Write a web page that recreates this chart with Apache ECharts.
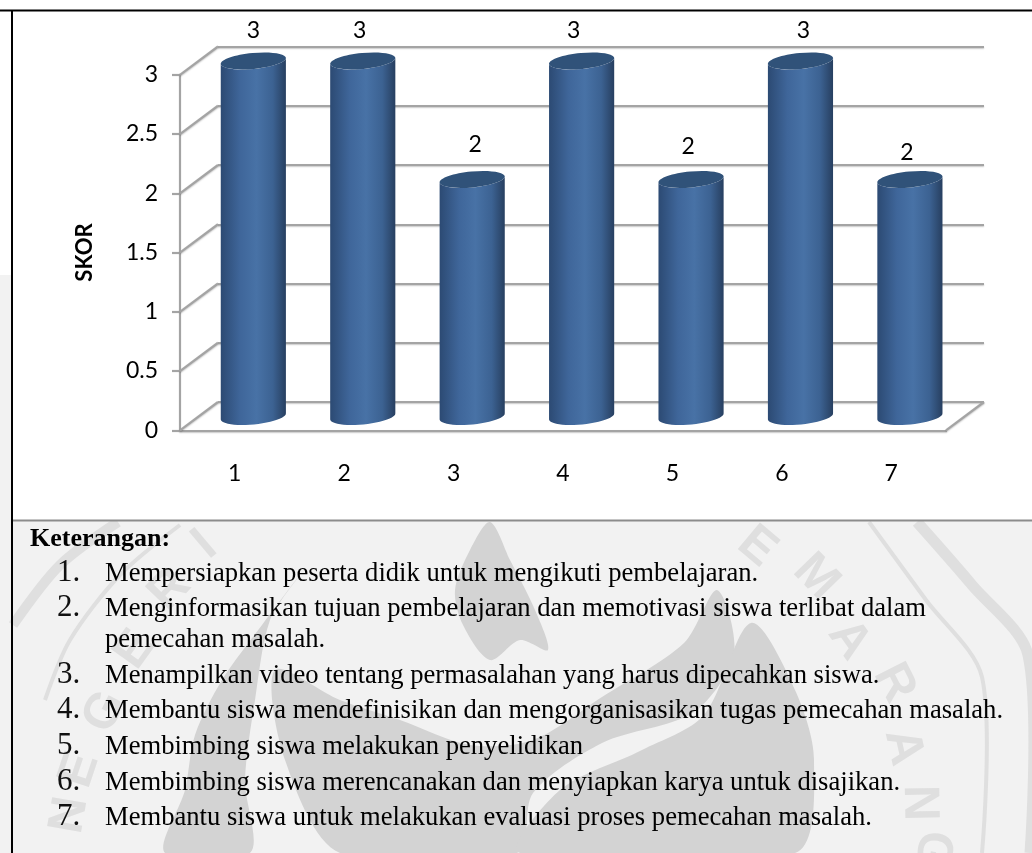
<!DOCTYPE html>
<html>
<head>
<meta charset="utf-8">
<style>html,body{margin:0;padding:0;background:#fff}#chart{width:1032px;height:853px}</style>
<script src="https://cdn.jsdelivr.net/npm/echarts@6/dist/echarts.min.js"></script>
</head>
<body>
<div id="chart"></div>
<script>
// Scores per teaching step
const categories = ['1', '2', '3', '4', '5', '6', '7'];
const scores = [3, 3, 2, 3, 2, 3, 2];
const tickValues = [0, 0.5, 1, 1.5, 2, 2.5, 3];
const axisTitle = 'SKOR';
const noteHeading = 'Keterangan:';
const notes = [
  ['1.', 'Mempersiapkan peserta didik untuk mengikuti pembelajaran.'],
  ['2.', 'Menginformasikan tujuan pembelajaran dan memotivasi siswa terlibat dalam', 'pemecahan masalah.'],
  ['3.', 'Menampilkan video tentang permasalahan yang harus dipecahkan siswa.'],
  ['4.', 'Membantu siswa mendefinisikan dan mengorganisasikan tugas pemecahan masalah.'],
  ['5.', 'Membimbing siswa melakukan penyelidikan'],
  ['6.', 'Membimbing siswa merencanakan dan menyiapkan karya untuk disajikan.'],
  ['7.', 'Membantu siswa untuk melakukan evaluasi proses pemecahan masalah.']
];

// Layout of the pseudo-3D box: the back wall and the front plane share one scale
const plotW = 766, plotH = 355.5;
const backLeft = 218, backTop = 46.5;
const depthX = -38, depthY = 28.3;
const gridGray = '#a4a4a4';
const barDepth = 0.51;          // bars stand about halfway between wall and front
const barWidthRatio = 0.598;
const labelNudges = [[0, 0], [-3, 0], [3, -5], [-8, 0], [-3, -3], [3, 0], [-3, 3]];
const labelFont = 'Lato';
const gridShadow = { shadowColor: 'rgba(0,0,0,0.22)', shadowBlur: 1.5, shadowOffsetY: 1 };

const tilt = 0.095;
const ellipseRy = 8;

function renderBar(params, api) {
  const i = api.value(0);
  const top = api.coord([i, api.value(1)]);
  const base = api.coord([i, 0]);
  const band = api.size([1, 0])[0];
  const rx = band * barWidthRatio / 2;
  const cx = top[0] + depthX * barDepth;
  const ty = top[1] + depthY * barDepth;
  const by = base[1] + depthY * barDepth;
  // Body outline: top rim joined to the rounded lower rim
  const pts = [];
  const rim = (a, cy) => [
    cx + rx * Math.cos(a) * Math.cos(tilt) + ellipseRy * Math.sin(a) * Math.sin(tilt),
    cy - rx * Math.cos(a) * Math.sin(tilt) + ellipseRy * Math.sin(a) * Math.cos(tilt)
  ];
  for (let k = 0; k <= 24; k++) pts.push(rim(Math.PI - Math.PI * k / 24, ty));
  for (let k = 0; k <= 24; k++) pts.push(rim(Math.PI * k / 24, by));
  const nudge = labelNudges[i];
  return {
    type: 'group',
    children: [
      {
        type: 'polygon',
        shape: { points: pts },
        style: {
          fill: {
            type: 'linear', x: 0, y: 0, x2: 1, y2: 0,
            colorStops: [
              { offset: 0, color: '#2c4a73' },
              { offset: 0.3, color: '#3f669a' },
              { offset: 0.55, color: '#4872a6' },
              { offset: 0.8, color: '#3c6292' },
              { offset: 1, color: '#273f60' }
            ]
          }
        }
      },
      {
        type: 'ellipse',
        shape: { cx: cx, cy: ty, rx: rx, ry: ellipseRy },
        rotation: tilt,
        originX: cx,
        originY: ty,
        style: { fill: '#305279' }
      },
      {
        type: 'text',
        style: {
          text: String(api.value(1)),
          x: cx + nudge[0],
          y: ty - 30 + nudge[1],
          align: 'center',
          verticalAlign: 'middle',
          font: '23px ' + labelFont,
          fill: '#000'
        }
      }
    ]
  };
}

// Side-wall and floor edges, one per tick, running from the front plane to the back wall
function renderWall(params, api) {
  const p = api.coord([0, api.value(0)]);
  const x0 = params.coordSys.x;
  const lineStyle = Object.assign({ stroke: gridGray, lineWidth: 2.2 }, gridShadow);
  const children = [{
    type: 'line',
    shape: { x1: x0, y1: p[1], x2: x0 - depthX, y2: p[1] - depthY },
    style: lineStyle
  }];
  if (api.value(0) === 0) {
    const xr = x0 + params.coordSys.width;
    children.push({
      type: 'line',
      shape: { x1: xr, y1: p[1], x2: xr - depthX, y2: p[1] - depthY },
      style: lineStyle
    });
  }
  return { type: 'group', children: children };
}

// Faint university emblem behind the notes panel
const wm = '#d3d3d3', wmLight = '#dfdfdf';
const flames = [
  [[490,522],[510,560],[535,610],[548,650],[520,640],[490,660],[463,625],[455,590],[470,550]],
  [[300,575],[262,625],[222,680],[195,735],[185,790],[165,853],[250,853],[245,780],[255,700],[270,620]],
  [[717,590],[684,643],[602,697],[533,740],[470,745],[400,720],[340,700],[275,670],[285,760],[340,853],[517,853],[533,793],[602,743],[694,712],[734,653]],
  [[751,623],[795,690],[814,760],[795,853],[520,853],[560,790],[642,750],[704,715]]
];
const rings = [
  { points: [[917,522],[972,585],[1028,655],[1030,853]], width: 11 },
  { points: [[869,522],[926,600],[982,677],[982,853]], width: 4 },
  { points: [[118,522],[60,565],[13,625]], width: 10 },
  { points: [[180,525],[120,575],[70,640],[45,700]], width: 4 }
];
const emblemLetters = [
  ['E', 757, 547, -0.7], ['M', 816, 577, -0.8], ['A', 849, 640, -0.95], ['R', 894, 683, -1.1],
  ['A', 903, 747, -1.35], ['N', 919, 803, -1.55], ['G', 932, 850, -1.75],
  ['N', 70, 815, 1.4], ['E', 80, 770, 1.25], ['G', 105, 712, 1.1], ['E', 135, 650, 0.95],
  ['R', 170, 590, 0.8], ['I', 205, 545, 0.7]
];
const markElements = [];
flames.forEach(points => markElements.push({ type: 'polygon', z: -8, shape: { points: points, smooth: 0.3 }, style: { fill: wm } }));
rings.forEach(r => markElements.push({ type: 'polyline', z: -8, shape: { points: r.points, smooth: 0.3 }, style: { stroke: wmLight, lineWidth: r.width, fill: null } }));
emblemLetters.forEach(l => markElements.push({
  type: 'text', z: -7, x: l[1], y: l[2], rotation: l[3],
  style: { text: l[0], align: 'center', verticalAlign: 'middle', font: 'bold 50px "Liberation Sans"', fill: wmLight }
}));

// Notes beneath the chart, set by baseline
const noteX = 105, numX = 57;
const noteBaselines = [[582], [617, 648], [684], [719], [755], [791], [826]];
const noteElements = [{
  type: 'text', z: 20,
  style: { text: noteHeading, x: 30, y: 552, verticalAlign: 'bottom', font: 'bold 26px "Liberation Serif"', fill: '#000' }
}];
notes.forEach((row, r) => {
  noteElements.push({
    type: 'text', z: 20,
    style: { text: row[0], x: numX, y: noteBaselines[r][0] + 6, verticalAlign: 'bottom', font: '31px "Liberation Serif"', fill: '#111' }
  });
  row.slice(1).forEach((line, l) => noteElements.push({
    type: 'text', z: 20,
    style: { text: line, x: noteX, y: noteBaselines[r][l] + 6, verticalAlign: 'bottom', font: '26.62px "Liberation Serif"', fill: '#000' }
  }));
});

const chart = echarts.init(document.getElementById('chart'), null, { renderer: 'canvas' });
chart.setOption({
  animation: false,
  backgroundColor: '#ffffff',
  graphic: {
    elements: [
      { type: 'rect', z: -10, shape: { x: 0, y: 275, width: 1032, height: 578 }, style: { fill: '#f2f2f2' } },
      ...markElements,
      { type: 'rect', z: -5, shape: { x: 12, y: 10, width: 1020, height: 510 }, style: { fill: '#ffffff' } },
      { type: 'line', z: 15, shape: { x1: 0, y1: 10.5, x2: 1032, y2: 10.5 }, style: { stroke: '#000', lineWidth: 2 } },
      { type: 'line', z: 15, shape: { x1: 12, y1: 10, x2: 12, y2: 853 }, style: { stroke: '#000', lineWidth: 2 } },
      { type: 'line', z: 15, shape: { x1: 13, y1: 520.5, x2: 1032, y2: 520.5 }, style: { stroke: '#8c8c8c', lineWidth: 2 } },
      ...noteElements
    ]
  },
  grid: [
    { left: backLeft, top: backTop, width: plotW, height: plotH, containLabel: false },
    { left: backLeft + depthX, top: backTop + depthY, width: plotW, height: plotH, containLabel: false }
  ],
  xAxis: [
    {
      type: 'category', gridIndex: 0, data: categories,
      axisLine: { show: false }, axisTick: { show: false }, axisLabel: { show: false }
    },
    {
      type: 'category', gridIndex: 1, data: categories,
      axisLine: { show: true, onZero: false, lineStyle: Object.assign({ color: gridGray, width: 2.2 }, gridShadow) },
      axisTick: { show: false },
      axisLabel: { margin: 32, color: '#000', fontFamily: labelFont, fontSize: 23 }
    }
  ],
  yAxis: [
    {
      type: 'value', gridIndex: 0, min: 0, max: 3, interval: 0.5,
      axisLine: { show: false }, axisTick: { show: false }, axisLabel: { show: false },
      splitLine: { show: true, lineStyle: Object.assign({ color: gridGray, width: 2.2 }, gridShadow) }
    },
    {
      type: 'value', gridIndex: 1, min: 0, max: 3, interval: 0.5,
      name: axisTitle, nameLocation: 'middle', nameRotate: 90, nameGap: 84,
      nameTextStyle: { color: '#000', fontFamily: labelFont, fontWeight: 'bold', fontSize: 22 },
      axisLine: { show: true, onZero: false, lineStyle: { color: gridGray, width: 2.2 } },
      axisTick: { show: true, length: 8, lineStyle: { color: gridGray, width: 2.2 } },
      axisLabel: { margin: 22, color: '#000', fontFamily: labelFont, fontSize: 23 },
      splitLine: { show: false }
    }
  ],
  series: [
    {
      type: 'custom', xAxisIndex: 1, yAxisIndex: 1, z: 1, silent: true,
      renderItem: renderWall,
      encode: { y: 0 },
      data: tickValues.map(v => [v])
    },
    {
      type: 'custom', xAxisIndex: 0, yAxisIndex: 0, z: 3, silent: true,
      renderItem: renderBar,
      encode: { x: 0, y: 1 },
      data: scores.map((s, i) => [i, s])
    }
  ]
});
</script>
</body>
</html>
